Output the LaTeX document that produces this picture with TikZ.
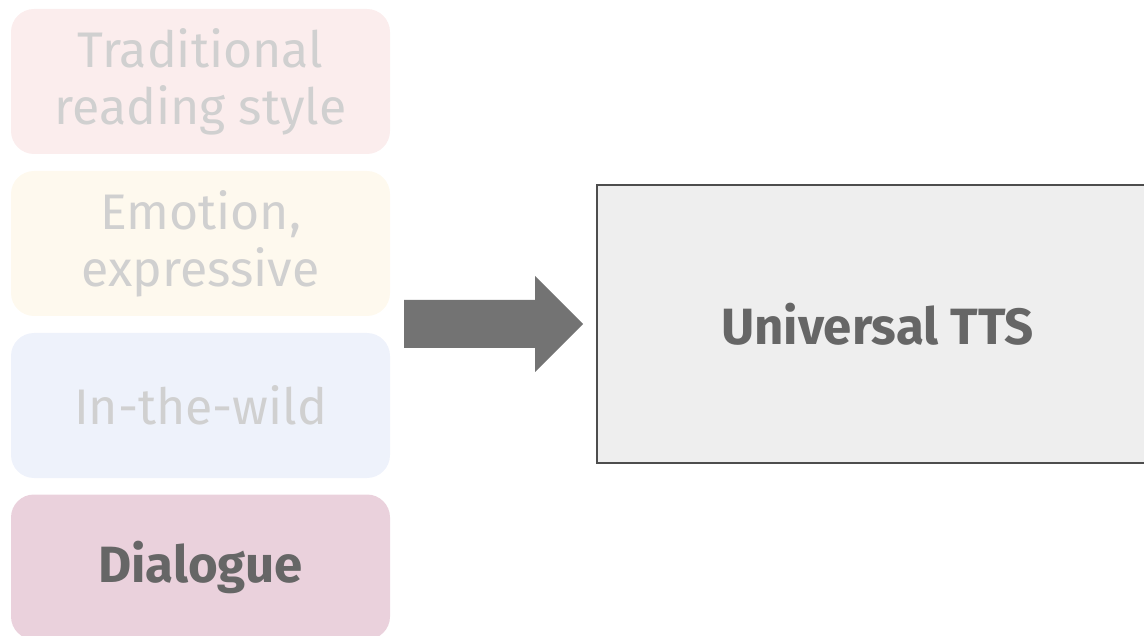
\documentclass[tikz,border=0pt]{standalone}
\usepackage{fontspec}
\usetikzlibrary{calc}
\setmainfont{Fira Sans}
\definecolor{fadetext}{HTML}{D0D0D0}
\definecolor{darktext}{HTML}{666666}
\definecolor{redfill}{HTML}{FBEDED}
\definecolor{yellowfill}{HTML}{FEF9EE}
\definecolor{bluefill}{HTML}{EEF2FB}
\definecolor{pinkfill}{HTML}{EAD1DC}
\definecolor{arrowgray}{HTML}{737373}
\definecolor{boxgray}{HTML}{EEEEEE}
\definecolor{boxline}{HTML}{4D4D4D}
\begin{document}
\begin{tikzpicture}[x=1pt,y=-1pt,
  category/.style={rounded corners=23pt, minimum width=379pt, minimum height=145pt,
    inner sep=0pt, align=center, font=\fontsize{50}{57}\selectfont},
  faded/.style={category, text=fadetext},
  boldlabel/.style={text=darktext, font=\fontsize{51}{57}\selectfont\bfseries},
  model/.style={draw=boxline, line width=1.5pt, fill=boxgray, minimum width=561pt,
    minimum height=278pt, boldlabel}]
\useasboundingbox (0,0) rectangle (1144,636);
\clip (0,0) rectangle (1144,636);
% data categories
\node[faded, fill=redfill] (trad) at (200.5,81.5) {Traditional\\reading style};
\node[faded, fill=yellowfill] (emo) at (200.5,243.5) {Emotion,\\expressive};
\node[faded, fill=bluefill] (wild) at (200.5,405.5) {In-the-wild};
\node[category, fill=pinkfill, boldlabel] (dia) at (200.5,567) {Dialogue};
% target model
\node[model] (tts) at (877.5,324) {Universal TTS};
% block arrow
\coordinate (tail) at (404,324);
\coordinate (tip) at (583,324);
\fill[arrowgray] ($(tail)+(0,-24)$) -- (535,300) -- (535,276) -- (tip) -- (535,372) -- (535,348) -- ($(tail)+(0,24)$) -- cycle;
\end{tikzpicture}
\end{document}
